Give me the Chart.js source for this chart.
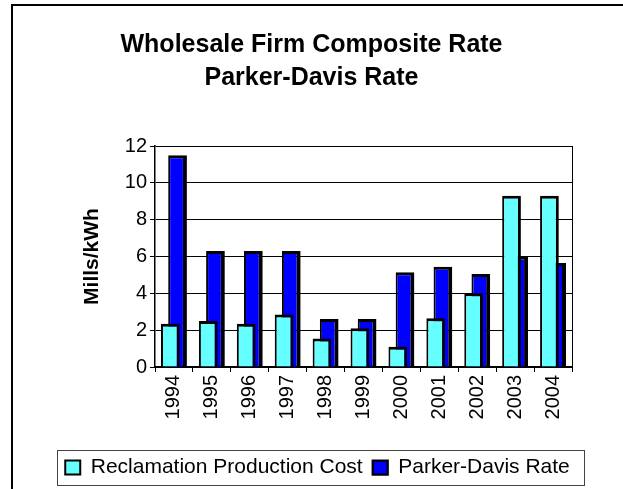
<!DOCTYPE html>
<html>
<head>
<meta charset="utf-8">
<script src="https://cdn.jsdelivr.net/npm/chart.js"></script>
<style>
    html, body { margin: 0; padding: 0; background: #fff; overflow: hidden; }
    #wrap { position: relative; width: 623px; height: 489px; }
    #frame { position: absolute; left: 11px; top: 4px; width: 700px; height: 600px; border-left: 2px solid #000; border-top: 2px solid #000; pointer-events: none; }
    canvas { position: absolute; left: 0; top: 0; }
</style>
</head>
<body>
<div id="wrap">
    <canvas id="rateChart" width="623" height="489"></canvas>
    <div id="frame"></div>
</div>
<script>
const years = ['1994', '1995', '1996', '1997', '1998', '1999', '2000', '2001', '2002', '2003', '2004'];
const reclamationCost = [2.35, 2.5, 2.35, 2.85, 1.55, 2.1, 1.1, 2.65, 4.0, 9.3, 9.3];
const parkerDavisRate = [11.5, 6.3, 6.3, 6.3, 2.6, 2.6, 5.15, 5.45, 5.05, 6.0, 5.65];
const yTicks = [0, 2, 4, 6, 8, 10, 12];

const FONT = "'Liberation Sans', Arial, sans-serif";

// box around the legend + right edge of the back wall
const frameBits = {
    id: 'frameBits',
    afterLayout: function (chart) {
        // title sits a little left of the legend centre
        chart.titleBlock.left -= 6;
        chart.titleBlock.right -= 6;
    },
    beforeDatasetsDraw: function (chart) {
        const a = chart.chartArea;
        const ctx = chart.ctx;
        ctx.save();
        ctx.strokeStyle = '#000';
        ctx.lineWidth = 1;
        ctx.beginPath();
        ctx.moveTo(a.right + 0.5, a.top);
        ctx.lineTo(a.right + 0.5, a.bottom);
        ctx.stroke();
        ctx.restore();
    },
    afterDraw: function (chart) {
        const hb = chart.legend.legendHitBoxes;
        if (!hb || !hb.length) return;
        const first = hb[0], last = hb[hb.length - 1];
        const cy = first.top + first.height / 2;
        const ctx = chart.ctx;
        ctx.save();
        ctx.strokeStyle = '#444';
        ctx.lineWidth = 1;
        ctx.strokeRect(Math.round(first.left - 8) + 0.5, Math.round(cy - 18) + 0.5,
            Math.round(last.left + last.width + 14 - (first.left - 8)), 35);
        ctx.restore();
    }
};

new Chart(document.getElementById('rateChart'), {
    type: 'bar',
    data: {
        labels: years,
        datasets: [
            {
                label: 'Reclamation Production Cost',
                data: reclamationCost,
                backgroundColor: '#66ffff',
                borderColor: '#000',
                borderWidth: { left: 2, top: 3, right: 3, bottom: 0 },
                borderSkipped: 'bottom',
                barPercentage: 2.6,
                categoryPercentage: 0.38
            },
            {
                label: 'Parker-Davis Rate',
                data: parkerDavisRate,
                backgroundColor: '#0000ff',
                borderColor: '#000',
                borderWidth: { left: 2, top: 3, right: 4, bottom: 0 },
                borderSkipped: 'bottom',
                barPercentage: 2.6,
                categoryPercentage: 0.38
            }
        ]
    },
    options: {
        responsive: false,
        animation: false,
        layout: { padding: { left: 12, right: 0, top: 0, bottom: 1 } },
        plugins: {
            title: {
                display: true,
                text: ['Wholesale Firm Composite Rate', 'Parker-Davis Rate'],
                color: '#000',
                font: { family: FONT, size: 25, weight: 'bold', lineHeight: 1.3 },
                padding: { top: 29, bottom: 52 }
            },
            legend: {
                position: 'bottom',
                labels: {
                    color: '#000',
                    font: { family: FONT, size: 21 },
                    boxWidth: 15,
                    boxHeight: 14,
                    padding: 10
                }
            },
            tooltip: { enabled: false }
        },
        scales: {
            x: {
                grid: { drawOnChartArea: false, color: '#000', tickLength: 5, offset: true },
                border: { display: true, color: '#000', width: 2 },
                ticks: {
                    color: '#000',
                    font: { family: FONT, size: 20 },
                    minRotation: 90,
                    maxRotation: 90,
                    padding: 3
                },
                afterFit: function (scale) { scale.height = 80; }
            },
            y: {
                min: 0,
                max: 12,
                afterBuildTicks: function (scale) {
                    scale.ticks = yTicks.map(v => ({ value: v }));
                },
                grid: { color: '#000', lineWidth: 1, tickLength: 5 },
                border: { display: true, color: '#000', width: 1.5 },
                ticks: {
                    color: '#000',
                    font: { family: FONT, size: 20 },
                    padding: 3
                },
                title: {
                    display: true,
                    text: 'Mills/kWh',
                    color: '#000',
                    font: { family: FONT, size: 21, weight: 'bold' },
                    padding: { top: 68, bottom: 0 }
                },
                afterFit: function (scale) { scale.width = 143; }
            },
            // empty axis that just keeps room on the right of the plot
            spacer: {
                type: 'linear',
                position: 'right',
                display: true,
                grid: { display: false },
                border: { display: false },
                ticks: { display: false },
                afterFit: function (scale) { scale.width = 51; }
            }
        }
    },
    plugins: [frameBits]
});
</script>
</body>
</html>
